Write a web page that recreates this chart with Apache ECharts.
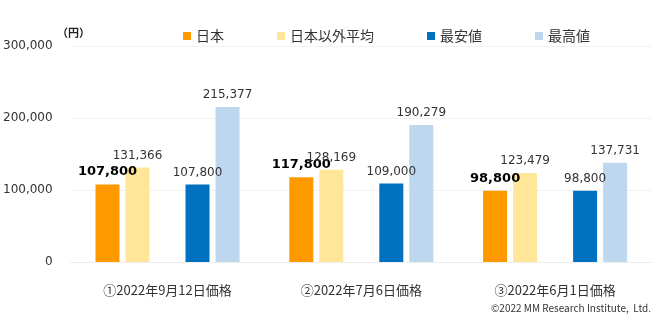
<!DOCTYPE html>
<html><head><meta charset="utf-8">
<script src="https://cdn.jsdelivr.net/npm/echarts@6/dist/echarts.min.js"></script>
<style>html,body{margin:0;padding:0;background:#fff}#c{width:665px;height:330px}</style>
</head><body><div id="c"></div>
<script>
var categories = ['①2022年9月12日価格', '②2022年7月6日価格', '③2022年6月1日価格'];
var japan = [107800, 117800, 98800];
var otherAvg = [131366, 128169, 123479];
var minPrice = [107800, 109000, 98800];
var maxPrice = [215377, 190279, 137731];
var yTicks = [0, 100000, 200000, 300000];

var FONT = '"Noto Sans CJK JP", "Noto Sans", sans-serif';
var NUMFONT = '"DejaVu Sans", Verdana, sans-serif';
var fmt = function (v) { return v.toLocaleString('en-US'); };
var chart = echarts.init(document.getElementById('c'), null, {renderer: 'canvas'});
function lbl(bold) {
  return {show: true, position: 'top', distance: 6, color: bold ? '#000' : '#333',
    fontFamily: NUMFONT, fontSize: bold ? 13 : 12, fontWeight: bold ? 'bold' : 'normal',
    formatter: function (p) { return fmt(p.value); }};
}
chart.setOption({
  animation: false,
  textStyle: {fontFamily: FONT},
  grid: {left: 70, right: 13, top: 46, bottom: 68},
  legend: {
    data: ['日本', '日本以外平均', '最安値', '最高値'],
    left: 178, top: 24, itemWidth: 8, itemHeight: 8, itemGap: 53, icon: 'rect',
    textStyle: {fontFamily: FONT, fontSize: 14, color: '#333'}
  },
  xAxis: {
    type: 'category', data: categories,
    axisLine: {show: true, lineStyle: {color: '#eeeeee', width: 1}},
    axisTick: {show: false},
    axisLabel: {fontFamily: FONT, fontSize: 13, color: '#333', margin: 22}
  },
  yAxis: {
    type: 'value', min: yTicks[0], max: yTicks[yTicks.length - 1], interval: 100000,
    axisLine: {show: false}, axisTick: {show: false},
    splitLine: {lineStyle: {color: '#f2f2f2', width: 1}},
    axisLabel: {fontFamily: NUMFONT, fontSize: 12, color: '#333', margin: 18, formatter: fmt}
  },
  graphic: [
    {type: 'text', left: 57, top: 27, style: {text: '（円）', fontFamily: FONT, fontSize: 11, fontWeight: 'bold', fill: '#222'}},
    {type: 'text', right: 14, top: 303, style: {text: '©2022 MM Research Institute,  Ltd.', fontFamily: FONT, fontSize: 10, fill: '#333'}}
  ],
  series: [
    {name: '日本', type: 'bar', data: japan, barWidth: 24, barGap: '25%', itemStyle: {color: '#FF9900'}, label: lbl(true)},
    {name: '日本以外平均', type: 'bar', data: otherAvg, barWidth: 24, barGap: '25%', itemStyle: {color: '#FFE699'}, label: lbl(false)},
    {name: 'spacer', type: 'bar', data: ['-', '-', '-'], barWidth: 24, barGap: '25%'},
    {name: '最安値', type: 'bar', data: minPrice, barWidth: 24, barGap: '25%', itemStyle: {color: '#0070C0'}, label: lbl(false)},
    {name: '最高値', type: 'bar', data: maxPrice, barWidth: 24, barGap: '25%', itemStyle: {color: '#BDD7EE'}, label: lbl(false)}
  ]
});
</script></body></html>
